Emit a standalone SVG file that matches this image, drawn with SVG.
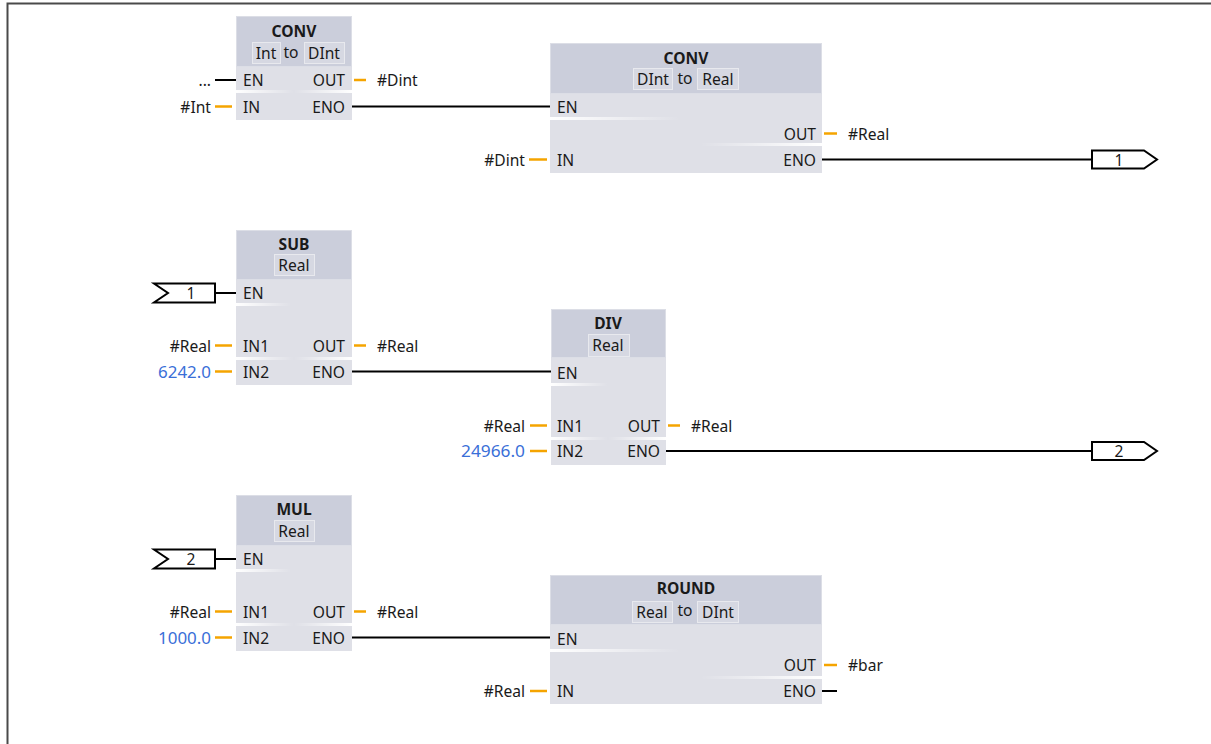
<svg xmlns="http://www.w3.org/2000/svg" width="1211" height="744" viewBox="0 0 1211 744">
<style>
text{font-family:"Noto Sans","Open Sans",sans-serif;font-size:15.6px;fill:#1a1a1a}
.t{font-weight:bold;text-anchor:middle}
.c{text-anchor:middle}
.r{text-anchor:end}
.b{fill:#3a6fd8}
.hd{fill:#cbcedb;stroke:#dcdee6;stroke-width:1}
.bd{fill:#dfe0e7}
.tb{fill:#d6d8e2;stroke:#e8e9ee;stroke-width:1}
.o{stroke:#f5a400;stroke-width:2.5;fill:none}
.w{stroke:#000;stroke-width:2;fill:none}
.k{fill:#fff;stroke:#000;stroke-width:2}
</style>
<defs>
<linearGradient id="gl" x1="0" y1="0" x2="1" y2="0"><stop offset="0" stop-color="#fff"/><stop offset="1" stop-color="#fff" stop-opacity="0"/></linearGradient>
<linearGradient id="gr" x1="1" y1="0" x2="0" y2="0"><stop offset="0" stop-color="#fff"/><stop offset="1" stop-color="#fff" stop-opacity="0"/></linearGradient>
</defs>
<rect width="1211" height="744" fill="#fff"/>
<path d="M7.5 744V3.5H1211" stroke="#4a4a4a" stroke-width="2" fill="none"/>

<g id="conv1">
<rect class="bd" x="236" y="16" width="116" height="104"/>
<rect class="hd" x="236.5" y="16.5" width="115" height="50"/>
<text class="t" x="294" y="37">CONV</text>
<rect class="tb" x="252.5" y="42.5" width="28" height="21"/><text class="c" x="266" y="59">Int</text>
<text class="c" x="291" y="58">to</text>
<rect class="tb" x="304.5" y="42.5" width="40" height="21"/><text class="c" x="324" y="59">DInt</text>
<rect x="236" y="90" width="58" height="3" fill="url(#gl)"/><rect x="294" y="90" width="58" height="3" fill="url(#gr)"/>
<text x="243" y="86">EN</text><text x="243" y="112.5">IN</text>
<text class="r" x="345" y="86">OUT</text><text class="r" x="345" y="112.5">ENO</text>
<path class="w" d="M215 80H236"/><text class="r" x="211" y="86">...</text>
<path class="o" d="M215 106.5H232"/><text class="r" x="211" y="112.5">#Int</text>
<path class="o" d="M354 80H366"/><text x="377" y="86">#Dint</text>
</g>

<g id="conv2">
<rect class="bd" x="550" y="43" width="272" height="130"/>
<rect class="hd" x="550.5" y="43.5" width="271" height="50"/>
<text class="t" x="686" y="64">CONV</text>
<rect class="tb" x="633.5" y="68.5" width="39" height="21"/><text class="c" x="653" y="85">DInt</text>
<text class="c" x="685" y="84">to</text>
<rect class="tb" x="697.5" y="68.5" width="41" height="21"/><text class="c" x="718" y="85">Real</text>
<rect x="550" y="117" width="130" height="3" fill="url(#gl)"/>
<rect x="700" y="143" width="122" height="3" fill="url(#gr)"/>
<text x="557" y="112.5">EN</text><text x="557" y="165.5">IN</text>
<text class="r" x="816" y="139.5">OUT</text><text class="r" x="816" y="165.5">ENO</text>
<path class="o" d="M529 159.5H547"/><text class="r" x="525" y="165.5">#Dint</text>
<path class="o" d="M824 133.5H837"/><text x="848" y="139.5">#Real</text>
</g>

<g id="sub">
<rect class="bd" x="236" y="230" width="116" height="155"/>
<rect class="hd" x="236.5" y="230.5" width="115" height="49"/>
<text class="t" x="294" y="250">SUB</text>
<rect class="tb" x="274.5" y="254.5" width="40" height="21"/><text class="c" x="294" y="271">Real</text>
<rect x="236" y="303" width="55" height="3" fill="url(#gl)"/>
<rect x="236" y="357" width="58" height="3" fill="url(#gl)"/><rect x="294" y="357" width="58" height="3" fill="url(#gr)"/>
<text x="243" y="299">EN</text><text x="243" y="351.5">IN1</text><text x="243" y="377.5">IN2</text>
<text class="r" x="345" y="351.5">OUT</text><text class="r" x="345" y="377.5">ENO</text>
<path class="o" d="M215 345.5H232"/><text class="r" x="211" y="351.5">#Real</text>
<path class="o" d="M215 371.5H232"/><text class="r b" x="211" y="377.5" textLength="53" lengthAdjust="spacingAndGlyphs">6242.0</text>
<path class="o" d="M354 345.5H366"/><text x="377" y="351.5">#Real</text>
</g>

<g id="div">
<rect class="bd" x="551" y="309" width="115" height="156"/>
<rect class="hd" x="551.5" y="309.5" width="114" height="48"/>
<text class="t" x="608" y="329">DIV</text>
<rect class="tb" x="588.5" y="334.5" width="41" height="22"/><text class="c" x="608" y="351">Real</text>
<rect x="551" y="383" width="57" height="3" fill="url(#gl)"/>
<rect x="551" y="437" width="57" height="3" fill="url(#gl)"/><rect x="608" y="437" width="58" height="3" fill="url(#gr)"/>
<text x="557" y="378.5">EN</text><text x="557" y="431.5">IN1</text><text x="557" y="457">IN2</text>
<text class="r" x="660" y="431.5">OUT</text><text class="r" x="660" y="457">ENO</text>
<path class="o" d="M530 425.5H547"/><text class="r" x="525" y="431.5">#Real</text>
<path class="o" d="M530 451H547"/><text class="r b" x="525" y="457" textLength="64" lengthAdjust="spacingAndGlyphs">24966.0</text>
<path class="o" d="M668 425.5H680"/><text x="691" y="431.5">#Real</text>
</g>

<g id="mul">
<rect class="bd" x="236" y="495" width="116" height="156"/>
<rect class="hd" x="236.5" y="495.5" width="115" height="50"/>
<text class="t" x="294" y="515">MUL</text>
<rect class="tb" x="274.5" y="520.5" width="40" height="21"/><text class="c" x="294" y="537">Real</text>
<rect x="236" y="569" width="55" height="3" fill="url(#gl)"/>
<rect x="236" y="623" width="58" height="3" fill="url(#gl)"/><rect x="294" y="623" width="58" height="3" fill="url(#gr)"/>
<text x="243" y="565">EN</text><text x="243" y="617.5">IN1</text><text x="243" y="643.5">IN2</text>
<text class="r" x="345" y="617.5">OUT</text><text class="r" x="345" y="643.5">ENO</text>
<path class="o" d="M215 611.5H232"/><text class="r" x="211" y="617.5">#Real</text>
<path class="o" d="M215 637.5H232"/><text class="r b" x="211" y="643.5" textLength="53" lengthAdjust="spacingAndGlyphs">1000.0</text>
<path class="o" d="M354 611.5H366"/><text x="377" y="617.5">#Real</text>
</g>

<g id="round">
<rect class="bd" x="550" y="575" width="272" height="129"/>
<rect class="hd" x="550.5" y="575.5" width="271" height="49"/>
<text class="t" x="686" y="594">ROUND</text>
<rect class="tb" x="632.5" y="601.5" width="40" height="21"/><text class="c" x="652" y="618">Real</text>
<text class="c" x="685" y="616">to</text>
<rect class="tb" x="697.5" y="601.5" width="41" height="21"/><text class="c" x="718" y="618">DInt</text>
<rect x="550" y="649" width="130" height="3" fill="url(#gl)"/>
<rect x="700" y="676" width="122" height="3" fill="url(#gr)"/>
<text x="557" y="644.5">EN</text><text x="557" y="697">IN</text>
<text class="r" x="816" y="671">OUT</text><text class="r" x="816" y="697">ENO</text>
<path class="o" d="M530 691H547"/><text class="r" x="525" y="697">#Real</text>
<path class="o" d="M824 665H837"/><text x="848" y="671">#bar</text>
</g>

<g id="connectors">
<path class="w" d="M352 106.5H550"/>
<path class="w" d="M822 159.5H1092"/>
<path class="w" d="M215 293H236"/>
<path class="w" d="M352 371.5H551"/>
<path class="w" d="M666 451H1092"/>
<path class="w" d="M215 559H236"/>
<path class="w" d="M352 637.5H550"/>
<path class="w" d="M822 691H837"/>
</g>

<g id="coil1">
<path class="k" d="M1092 150.5H1144L1157 159.5L1144 168.5H1092Z"/>
<text class="c" x="1119" y="165.5">1</text>
</g>
<g id="coil2">
<path class="k" d="M1092 442H1144L1157 451L1144 460H1092Z"/>
<text class="c" x="1119" y="457">2</text>
</g>
<g id="in1">
<path class="k" d="M154 283.5H215V302.5H154L168 293Z"/>
<text class="c" x="191" y="299">1</text>
</g>
<g id="in2">
<path class="k" d="M154 549.5H215V568.5H154L168 559Z"/>
<text class="c" x="191" y="565">2</text>
</g>
</svg>
